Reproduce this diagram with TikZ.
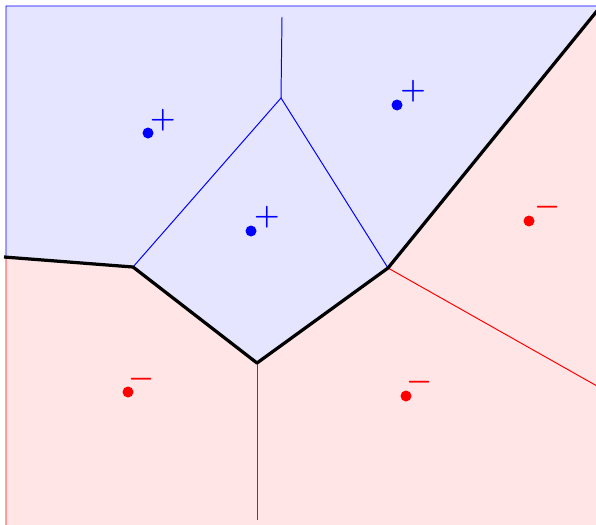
\documentclass[tikz,border=0pt]{standalone}
\usepackage{amsmath,amssymb}
\usepackage{tikz}
\usetikzlibrary{calc}

\begin{document}
\begin{tikzpicture}[x=0.25mm, y=-0.25mm,
    plusreg/.style={draw=blue, fill=blue!10, line width=0.7pt},
    minusreg/.style={draw=red, fill=red!10, line width=0.7pt},
    sep/.style={black, line width=2.3pt, line join=round},
    pt/.style={circle, fill, inner sep=0pt, minimum size=2.75mm},
    sgn/.style={inner sep=0pt, font=\huge\boldmath}
  ]
  \useasboundingbox (0,0) rectangle (596,524);
  \clip (0,0) rectangle (596,524);

  % Ecken der Trennlinie
  \coordinate (a) at (4,257);
  \coordinate (b) at (133,267);
  \coordinate (c) at (257,363);
  \coordinate (d) at (388,268);
  \coordinate (e) at (601,6);

  % Rand
  \coordinate (tl) at (6,6);
  \coordinate (al) at (6,257);

  % Innere Ecken
  \coordinate (v) at (281,98);
  \coordinate (vt) at (282,17);
  \coordinate (cb) at (257,520);
  \coordinate (dr) at (620,399);

  % Gebiete
  \draw[minusreg] (al) -- (b) -- (c) -- (d) -- (e) -- (620,-10) -- (620,540) -- (6,540) -- cycle;
  \draw[plusreg] (tl) -- (e) -- (d) -- (c) -- (b) -- (al) -- cycle;

  % Zellgrenzen
  \draw[blue, line width=0.7pt] (vt) -- (v);
  \draw[blue, line width=0.7pt] (b) -- (v) -- (d);
  \draw[red, line width=0.7pt] (c) -- (cb);
  \draw[red, line width=0.7pt] (d) -- (dr);

  % Trennlinie
  \draw[sep] (a) -- (b) -- (c) -- (d) -- (e);

  % Punkte (+)
  \node[pt, blue] (p1) at (148,133) {};
  \node[pt, blue] (p2) at (251,231) {};
  \node[pt, blue] (p3) at (397,105) {};
  \node[sgn, blue] (s1) at (163,120) {$+$};
  \node[sgn, blue] (s2) at (267,217) {$+$};
  \node[sgn, blue] (s3) at (413,91) {$+$};

  % Punkte (-)
  \node[pt, red] (m1) at (128,392) {};
  \node[pt, red] (m2) at (406,396) {};
  \node[pt, red] (m3) at (529,221) {};
  \node[sgn, red] (t1) at (142,379) {$-$};
  \node[sgn, red] (t2) at (420,382) {$-$};
  \node[sgn, red] (t3) at (548,207) {$-$};
\end{tikzpicture}
\end{document}
